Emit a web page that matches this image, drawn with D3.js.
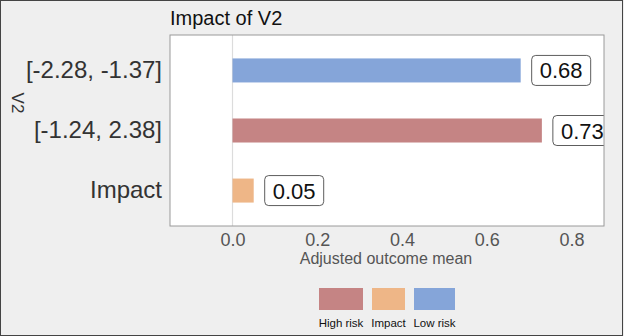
<!DOCTYPE html>
<html>
<head>
<meta charset="utf-8">
<script src="https://cdn.jsdelivr.net/npm/d3@7"></script>
<style>
  body { margin: 0; background: #efefef; }
  svg { display: block; font-family: "Liberation Sans", Arial, sans-serif; }
</style>
</head>
<body>
<div id="chart"></div>
<script>
// data
var categories = ["[-2.28, -1.37]", "[-1.24, 2.38]", "Impact"];
var groups = ["Low risk", "High risk", "Impact"];
var values = [0.68, 0.73, 0.05];
var legendGroups = ["High risk", "Impact", "Low risk"];
var xTicks = [0, 0.2, 0.4, 0.6, 0.8];

var svgWidth = 624, svgHeight = 336;
var margin = { top: 35, right: 20, bottom: 110, left: 170 };
var width = svgWidth - margin.left - margin.right;
var height = svgHeight - margin.top - margin.bottom;

var color = d3.scaleOrdinal()
  .domain(["High risk", "Impact", "Low risk"])
  .range(["#c58484", "#eeb687", "#85a5d9"]);

var svg = d3.select("#chart").append("svg")
  .attr("width", svgWidth)
  .attr("height", svgHeight);

// outer frame
svg.append("rect")
  .attr("x", 0.5).attr("y", 0.5)
  .attr("width", svgWidth - 2).attr("height", svgHeight - 1)
  .attr("fill", "#efefef")
  .attr("stroke", "#444");

var chartGroup = svg.append("g")
  .attr("transform", `translate(${margin.left}, ${margin.top})`);

var x = d3.scaleLinear().domain([-0.1475, 0.8766]).range([0, width]);
var y = d3.scaleBand().domain(categories).range([0, height]).paddingInner(0.6).paddingOuter(0.39);

svg.append("defs").append("clipPath").attr("id", "panel")
  .append("rect").attr("width", width).attr("height", height);

chartGroup.append("rect")
  .attr("width", width).attr("height", height)
  .attr("fill", "white");

var inner = chartGroup.append("g").attr("clip-path", "url(#panel)");

inner.append("line")
  .attr("x1", x(0)).attr("x2", x(0))
  .attr("y1", 0).attr("y2", height)
  .attr("stroke", "#dcdcdc").attr("stroke-width", 1.2);

inner.selectAll(".bar")
  .data(values)
  .enter().append("rect")
  .attr("class", "bar")
  .attr("x", x(0))
  .attr("y", (d, i) => y(categories[i]))
  .attr("width", d => x(d) - x(0))
  .attr("height", y.bandwidth())
  .attr("fill", (d, i) => color(groups[i]));

// value labels
var labels = inner.selectAll(".lbl")
  .data(values)
  .enter().append("g")
  .attr("class", "lbl")
  .attr("transform", (d, i) => `translate(${x(d) + 11}, ${y(categories[i]) + y.bandwidth() / 2})`);

labels.append("rect")
  .attr("x", 0).attr("y", -15)
  .attr("width", 59).attr("height", 30)
  .attr("rx", 4)
  .attr("fill", "white")
  .attr("stroke", "#333").attr("stroke-width", 0.8);

labels.append("text")
  .attr("x", 29.5).attr("y", 8)
  .attr("text-anchor", "middle")
  .style("font-size", "22px")
  .attr("fill", "#111")
  .text(d => d.toFixed(2));

chartGroup.append("rect")
  .attr("width", width).attr("height", height)
  .attr("fill", "none")
  .attr("stroke", "#9a9a9a").attr("stroke-width", 1);

// axes
var bottomAxis = d3.axisBottom(x).tickValues(xTicks).tickFormat(d3.format(".1f")).tickSize(0).tickPadding(8);
var xAxis = chartGroup.append("g")
  .attr("transform", `translate(0, ${height})`)
  .call(bottomAxis);
xAxis.select(".domain").remove();
xAxis.selectAll("text")
  .attr("dy", null).attr("y", 20)
  .style("font-size", "18px").attr("fill", "#555").style("font-family", "inherit");

var leftAxis = d3.axisLeft(y).tickSize(0).tickPadding(8);
var yAxis = chartGroup.append("g").call(leftAxis);
yAxis.select(".domain").remove();
yAxis.selectAll("text").style("font-size", "24px").attr("fill", "#333").style("font-family", "inherit");

// titles
svg.append("text")
  .attr("x", margin.left).attr("y", 25)
  .style("font-size", "20px").attr("fill", "#111")
  .text("Impact of V2");

svg.append("text")
  .attr("x", 386).attr("y", 264)
  .attr("text-anchor", "middle")
  .style("font-size", "16px").attr("fill", "#555")
  .text("Adjusted outcome mean");

svg.append("text")
  .attr("transform", "translate(12, 103) rotate(90)")
  .attr("text-anchor", "middle")
  .style("font-size", "17px").attr("fill", "#333")
  .text("V2");

// legend
var legendX = [319, 372, 414];
var legendW = [44, 33, 41];
var legend = svg.selectAll(".leg")
  .data(legendGroups)
  .enter().append("g")
  .attr("class", "leg");

legend.append("rect")
  .attr("x", (d, i) => legendX[i]).attr("y", 288)
  .attr("width", (d, i) => legendW[i]).attr("height", 22)
  .attr("fill", d => color(d));

legend.append("text")
  .attr("x", (d, i) => legendX[i] + legendW[i] / 2).attr("y", 327)
  .attr("text-anchor", "middle")
  .style("font-size", "11.5px").attr("fill", "#111")
  .text(d => d);
</script>
</body>
</html>
